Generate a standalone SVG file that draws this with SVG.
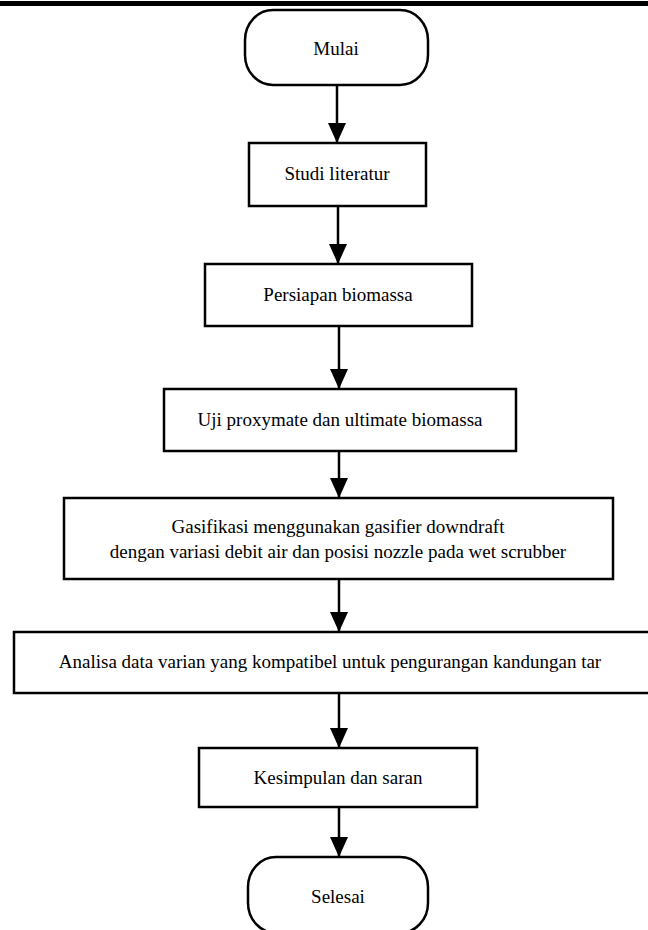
<svg xmlns="http://www.w3.org/2000/svg" width="648" height="930" viewBox="0 0 648 930">
<style>
.box{fill:#fff;stroke:#000;stroke-width:2.5}
.t{font-family:"Liberation Serif","Times New Roman",serif;font-size:19px;fill:#000;text-anchor:middle}
.c{stroke:#000;stroke-width:2.5;fill:none;marker-end:url(#ah)}
</style>
<defs>
<marker id="ah" markerUnits="userSpaceOnUse" markerWidth="20" markerHeight="18" refX="20" refY="9" orient="auto">
<path d="M0,0 L20,9 L0,18 Z" fill="#000"/>
</marker>
</defs>
<rect x="0" y="1" width="648" height="5" fill="#000"/>
<g id="connectors">
<line class="c" x1="337" y1="85" x2="337" y2="143"/>
<line class="c" x1="338" y1="206" x2="338" y2="264"/>
<line class="c" x1="339" y1="326" x2="339" y2="389"/>
<line class="c" x1="339" y1="451" x2="339" y2="498"/>
<line class="c" x1="339" y1="579" x2="339" y2="632"/>
<line class="c" x1="339" y1="693" x2="339" y2="748"/>
<line class="c" x1="339" y1="807" x2="339" y2="857"/>
</g>
<g id="mulai">
<rect class="box" x="245" y="10" width="183" height="75" rx="28" ry="30"/>
<text class="t" x="336" y="55">Mulai</text>
</g>
<g id="studi">
<rect class="box" x="249" y="143" width="177" height="63"/>
<text class="t" x="337" y="180">Studi literatur</text>
</g>
<g id="persiapan">
<rect class="box" x="205" y="264" width="267" height="62"/>
<text class="t" x="338" y="301">Persiapan biomassa</text>
</g>
<g id="uji">
<rect class="box" x="164" y="389" width="352" height="62"/>
<text class="t" x="340" y="426">Uji proxymate dan ultimate biomassa</text>
</g>
<g id="gasifikasi">
<rect class="box" x="64" y="498" width="549" height="81"/>
<text class="t" x="338" y="533">Gasifikasi menggunakan gasifier downdraft</text>
<text class="t" x="338" y="558">dengan variasi debit air dan posisi nozzle pada wet scrubber</text>
</g>
<g id="analisa">
<rect class="box" x="14" y="632" width="650" height="61"/>
<text class="t" x="330" y="668">Analisa data varian yang kompatibel untuk pengurangan kandungan tar</text>
</g>
<g id="kesimpulan">
<rect class="box" x="199" y="748" width="278" height="59"/>
<text class="t" x="338" y="784">Kesimpulan dan saran</text>
</g>
<g id="selesai">
<rect class="box" x="248" y="857" width="180" height="76" rx="28" ry="30"/>
<text class="t" x="338" y="903">Selesai</text>
</g>
</svg>
